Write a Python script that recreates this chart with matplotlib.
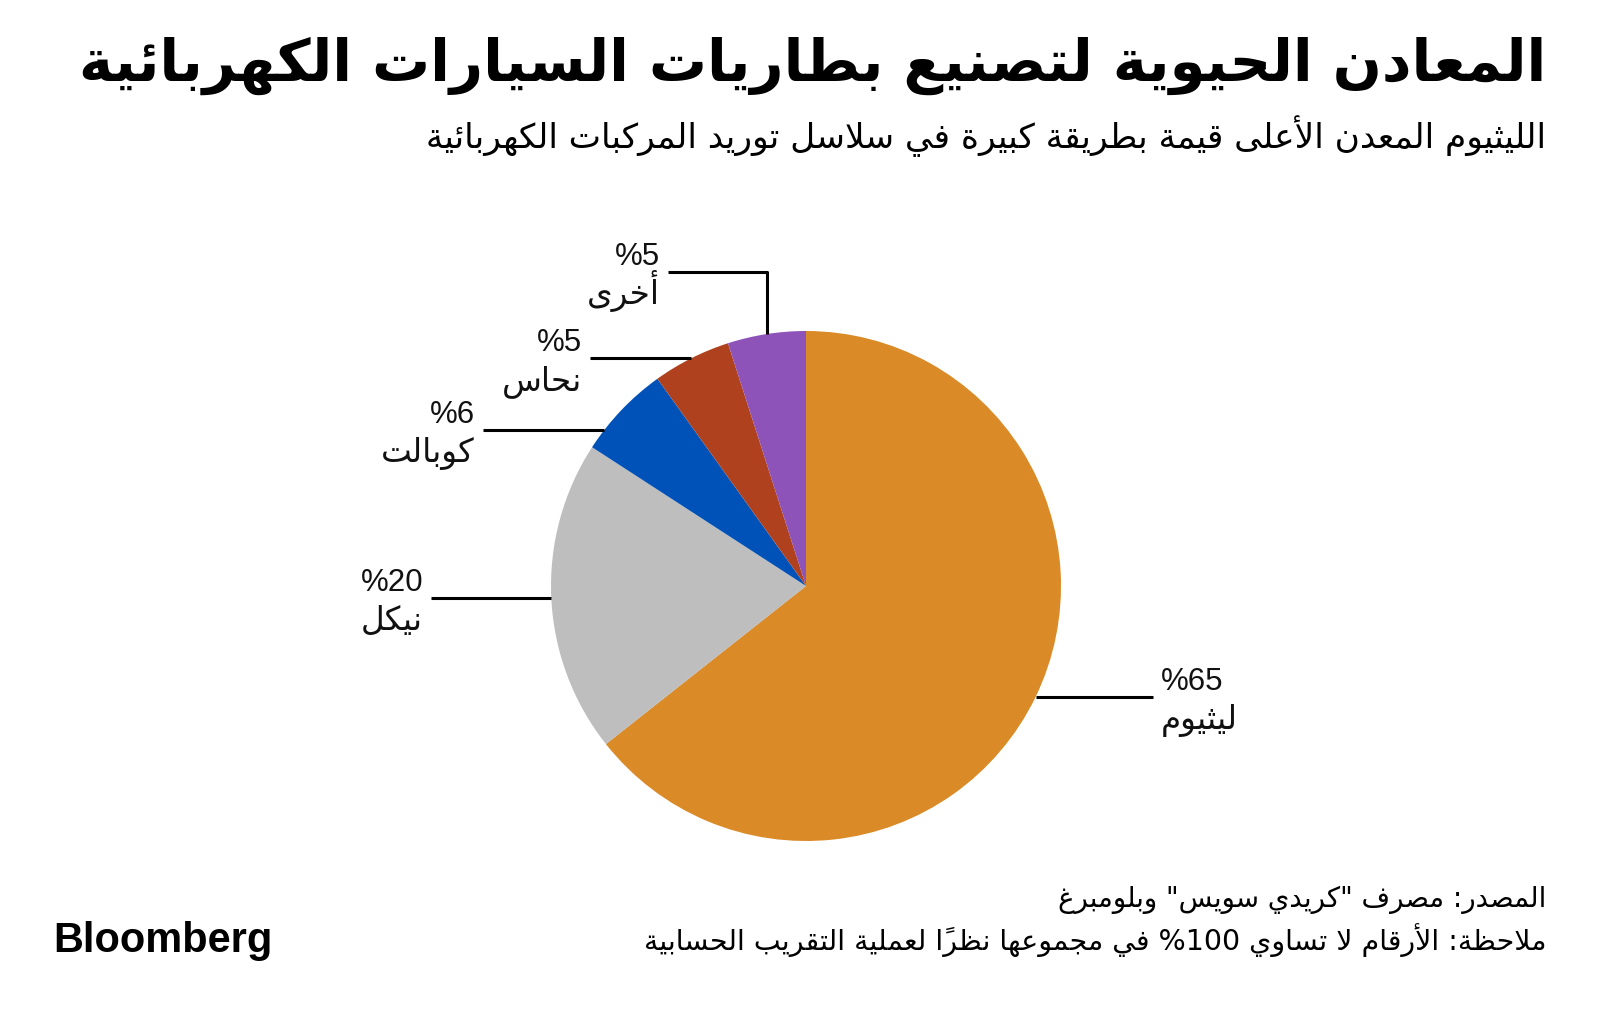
import re
import math
import matplotlib
matplotlib.use("Agg")
import matplotlib.pyplot as plt

# ---------------- data ----------------
minerals = ["ليثيوم", "نيكل", "كوبالت", "نحاس", "أخرى"]
shares = [65, 20, 6, 5, 5]
pct_labels = ["%65", "%20", "%6", "%5", "%5"]
title = "المعادن الحيوية لتصنيع بطاريات السيارات الكهربائية"
subtitle = "الليثيوم المعدن الأعلى قيمة بطريقة كبيرة في سلاسل توريد المركبات الكهربائية"
source = "المصدر: مصرف \"كريدي سويس\" وبلومبرغ"
note = "ملاحظة: الأرقام لا تساوي %100 في مجموعها نظراً لعملية التقريب الحسابية"
brand = "Bloomberg"

# ---------------- styles ----------------
colors = ["#DA8A26", "#BEBEBE", "#0052B8", "#B0411E", "#8E53B9"]
W, H = 1600, 1020
CX, CY, R = 806, 587, 255           # pie centre / radius in image px (y down)
anchor_frac = [0.5, 0.5, 0.22, 0.5, 0.5]   # where on each wedge the leader starts
# label layout: (side, line end x, text x)  side: 'R' right of pie, 'L' left, 'T' elbow up
label_layout = [("R", 1153, 1161), ("L", 431, 423), ("L", 483, 475),
                ("L", 590, 582), ("T", 668, 660)]
elbow_y = 273

# ---------------- Arabic shaping ----------------
_letters = ("\u0621", 1), ("\u0622", 2), ("\u0623", 2), ("\u0624", 2), ("\u0625", 2), \
    ("\u0626", 4), ("\u0627", 2), ("\u0628", 4), ("\u0629", 2), ("\u062A", 4), ("\u062B", 4), \
    ("\u062C", 4), ("\u062D", 4), ("\u062E", 4), ("\u062F", 2), ("\u0630", 2), ("\u0631", 2), \
    ("\u0632", 2), ("\u0633", 4), ("\u0634", 4), ("\u0635", 4), ("\u0636", 4), ("\u0637", 4), \
    ("\u0638", 4), ("\u0639", 4), ("\u063A", 4), ("\u0641", 4), ("\u0642", 4), ("\u0643", 4), \
    ("\u0644", 4), ("\u0645", 4), ("\u0646", 4), ("\u0647", 4), ("\u0648", 2), ("\u0649", 2), \
    ("\u064A", 4)
FORMS = {}
_cp = 0xFE80
for ch, n in _letters:
    FORMS[ch] = tuple(chr(_cp + k) for k in range(n))
    _cp += n
LAMALEF = {"\u0622": 0xFEF5, "\u0623": 0xFEF7, "\u0625": 0xFEF9, "\u0627": 0xFEFB}


def _is_mark(c):
    return "\u064B" <= c <= "\u065F" or c == "\u0670"


def _jl(c):
    return c in FORMS and len(FORMS[c]) == 4


def _jr(c):
    return c in FORMS and len(FORMS[c]) >= 2


def shape(s):
    ch = list(s)
    n = len(ch)
    out = []

    def prev_l(i):
        j = i - 1
        while j >= 0 and _is_mark(ch[j]):
            j -= 1
        return ch[j] if j >= 0 else None

    def next_l(i):
        j = i + 1
        while j < n and _is_mark(ch[j]):
            j += 1
        return ch[j] if j < n else None

    i = 0
    while i < n:
        c = ch[i]
        if c == "\u0644" and i + 1 < n and ch[i + 1] in LAMALEF:
            p = prev_l(i)
            base = LAMALEF[ch[i + 1]]
            out.append(chr(base + 1) if (p is not None and _jl(p)) else chr(base))
            i += 2
            continue
        if c in FORMS:
            p, nx = prev_l(i), next_l(i)
            cp = _jr(c) and p is not None and _jl(p)
            cn = _jl(c) and nx is not None and _jr(nx)
            f = FORMS[c]
            if cp and cn:
                out.append(f[3])
            elif cp:
                out.append(f[1])
            elif cn:
                out.append(f[2])
            else:
                out.append(f[0])
        else:
            out.append(c)
        i += 1
    return "".join(out)


def _rev_clusters(s):
    clusters = []
    for c in s:
        if _is_mark(c) and clusters:
            clusters[-1] += c
        else:
            clusters.append(c)
    return "".join(reversed(clusters))


def ar(s):
    shaped = shape(s)
    runs = re.findall(r"[0-9A-Za-z%]+|[^0-9A-Za-z%]+", shaped)
    vis = []
    for r_ in reversed(runs):
        if re.match(r"[0-9A-Za-z%]", r_):
            vis.append(r_)
        else:
            vis.append(_rev_clusters(r_))
    return "".join(vis)


# ---------------- figure ----------------
fig = plt.figure(figsize=(W / 100, H / 100), dpi=100)
fig.patch.set_facecolor("white")
ax = fig.add_axes([0, 0, 1, 1])


def Y(y):
    return H - y


wedges, _ = ax.pie(shares, colors=colors, startangle=90, counterclock=False,
                   center=(CX, Y(CY)), radius=R, wedgeprops=dict(linewidth=0))
ax.set_xlim(0, W)
ax.set_ylim(0, H)
ax.set_aspect("auto")
ax.axis("off")

ar_fam = ["DejaVu Sans"]
lbl_fam = ["Liberation Sans", "DejaVu Sans"]
line_kw = dict(color="black", lw=2.2, solid_capstyle="butt")

for w, frac, (side, lx, tx), name, pct in zip(wedges, anchor_frac, label_layout, minerals, pct_labels):
    t1, t2 = w.theta1, w.theta2
    ang = math.radians(t2 - frac * (t2 - t1))
    ax_x = CX + R * math.cos(ang)
    ax_y = Y(CY) + R * math.sin(ang)
    if side == "T":
        ax.plot([ax_x, ax_x, lx], [ax_y, Y(elbow_y), Y(elbow_y)], **line_kw)
        ly = Y(elbow_y)
        ha = "right"
    else:
        ax.plot([ax_x, lx], [ax_y, ax_y], **line_kw)
        ly = ax_y
        ha = "left" if side == "R" else "right"
    ax.text(tx, ly + 8, pct, ha=ha, va="baseline", fontsize=22.5, family=lbl_fam, color="#111111")
    ax.text(tx, ly - 31, ar(name), ha=ha, va="baseline", fontsize=23.5, family=ar_fam, color="#111111")

# titles and footer
t_title = ax.text(1546, Y(66), ar(title), ha="right", va="center", fontsize=40,
                  fontweight="bold", family=ar_fam, color="black")
t_sub = ax.text(1546, Y(136), ar(subtitle), ha="right", va="center", fontsize=24,
                family=ar_fam, color="black")
t_src = ax.text(1546, Y(900), ar(source), ha="right", va="center", fontsize=18,
                family=ar_fam, color="black")
t_note = ax.text(1546, Y(940), ar(note), ha="right", va="center", fontsize=18,
                 family=ar_fam, color="black")
t_brand = ax.text(53, Y(941), brand, ha="left", va="center", fontsize=28,
                  fontweight="bold", family=["Liberation Sans", "DejaVu Sans"], color="black")

fig.canvas.draw()
rend = fig.canvas.get_renderer()
for t, target in [(t_title, 1466), (t_sub, 1128), (t_src, 490), (t_note, 903), (t_brand, 219)]:
    wpx = t.get_window_extent(rend).width
    t.set_fontsize(t.get_fontsize() * target / wpx)

fig.savefig("out.png", dpi=100, facecolor="white")
